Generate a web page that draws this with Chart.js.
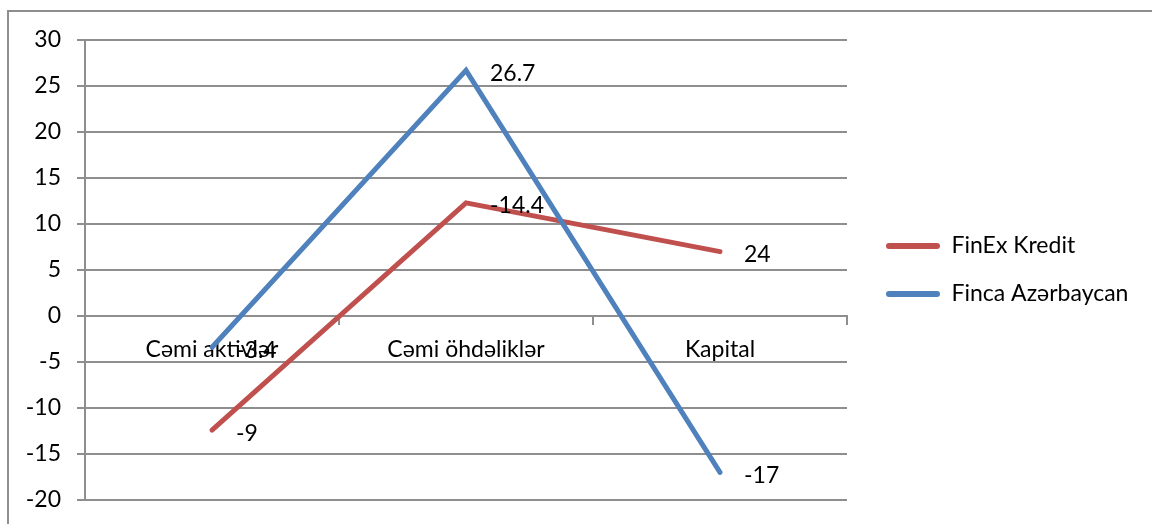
<!DOCTYPE html>
<html>
<head>
<meta charset="utf-8">
<script src="https://cdn.jsdelivr.net/npm/chart.js@4/dist/chart.umd.min.js"></script>
<style>
	body { margin: 0; background: #fff; }
	#wrap { width: 1152px; height: 524px; }
</style>
</head>
<body>
<div id="wrap"><canvas id="chart" width="1152" height="524"></canvas></div>
<script>
// data
const categories = ['Cəmi aktivlər', 'Cəmi öhdəliklər', 'Kapital'];
const finexValues = [-12.4, 12.3, 7.0];
const fincaValues = [-3.4, 26.7, -17];
// labels as printed next to the points (they don't match the values in the original)
const finexLabels = ['-9', '-14.4', '24'];
const fincaLabels = ['-3.4', '26.7', '-17'];
const yTicks = { min: -20, max: 30, step: 5 };

const FONT = 'Lato';
const FS = 23;
const gridColor = '#8e8e8e';

// legend width, so the plot ends where it does in the original
const mctx = document.createElement('canvas').getContext('2d');
mctx.font = FS + 'px ' + FONT;
const textW = Math.max(mctx.measureText('FinEx Kredit').width, mctx.measureText('Finca Azərbaycan').width);
const legendW = 25 + 54 + FS / 2 + textW + 10;
const padRight = Math.max(0, 1152 - 847 - legendW);

// outer frame
const framePlugin = {
	id: 'frame',
	beforeDraw(chart) {
		const ctx = chart.ctx;
		ctx.save();
		ctx.fillStyle = '#fff';
		ctx.fillRect(0, 0, chart.width, chart.height);
		ctx.strokeStyle = gridColor;
		ctx.lineWidth = 2;
		ctx.strokeRect(8, 11, 1300, 700);
		ctx.restore();
	}
};

// nudge legend to the right a bit
const legendShift = {
	id: 'legendShift',
	afterLayout(chart) {
		const lg = chart.legend;
		const w = lg.width;
		lg.left = 861;
		lg.right = 861 + w;
	}
};

// value labels to the right of each point
const pointLabels = {
	id: 'pointLabels',
	afterDatasetsDraw(chart) {
		const ctx = chart.ctx;
		ctx.save();
		ctx.font = FS + 'px ' + FONT;
		ctx.fillStyle = '#000';
		ctx.textAlign = 'left';
		ctx.textBaseline = 'middle';
		chart.data.datasets.forEach((ds, i) => {
			const meta = chart.getDatasetMeta(i);
			meta.data.forEach((pt, j) => {
				ctx.fillText(ds.pointText[j], pt.x + 24, pt.y + 3);
			});
		});
		ctx.restore();
	}
};

const data = {
	labels: categories,
	datasets: [{
		label: 'FinEx Kredit',
		data: finexValues,
		pointText: finexLabels,
		borderColor: '#C0504D',
		backgroundColor: '#C0504D',
		borderWidth: 5,
		order: 2
	},
	{
		label: 'Finca Azərbaycan',
		data: fincaValues,
		pointText: fincaLabels,
		borderColor: '#4F81BD',
		backgroundColor: '#4F81BD',
		borderWidth: 5,
		order: 1
	}]
};

const config = {
	type: 'line',
	data,
	options: {
		responsive: false,
		animation: false,
		layout: {
			padding: { left: 0, top: 40, right: padRight, bottom: 24 }
		},
		elements: {
			point: { radius: 0, hoverRadius: 0 },
			line: { tension: 0, borderCapStyle: 'round', borderJoinStyle: 'miter' }
		},
		scales: {
			x: {
				type: 'category',
				position: { y: 0 },
				offset: true,
				grid: {
					offset: true,
					drawOnChartArea: false,
					drawTicks: true,
					tickLength: 8,
					color: gridColor,
					lineWidth: 2
				},
				border: { color: gridColor, width: 2 },
				ticks: {
					padding: 12,
					color: '#000',
					font: { family: FONT, size: FS },
					maxRotation: 0
				}
			},
			y: {
				min: yTicks.min,
				max: yTicks.max,
				afterFit(scale) {
					scale.width = 85;
					scale.paddingTop = 10;
					scale.paddingBottom = 10;
				},
				grid: {
					color: gridColor,
					lineWidth: 2,
					tickLength: 8
				},
				border: { color: gridColor, width: 2 },
				ticks: {
					stepSize: yTicks.step,
					padding: 16,
					color: '#000',
					font: { family: FONT, size: FS }
				}
			}
		},
		plugins: {
			tooltip: { enabled: false },
			legend: {
				position: 'right',
				labels: {
					boxWidth: 54,
					boxHeight: 6,
					padding: 25,
					color: '#000',
					font: { family: FONT, size: FS },
					sort: (a, b) => a.datasetIndex - b.datasetIndex,
					generateLabels(chart) {
						return Chart.defaults.plugins.legend.labels.generateLabels(chart).map(l => {
							l.lineWidth = 0;
							l.fillStyle = l.strokeStyle;
							l.borderRadius = 3;
							return l;
						});
					}
				}
			}
		}
	},
	plugins: [framePlugin, legendShift, pointLabels]
};

const myChart = new Chart(document.getElementById('chart'), config);
</script>
</body>
</html>
